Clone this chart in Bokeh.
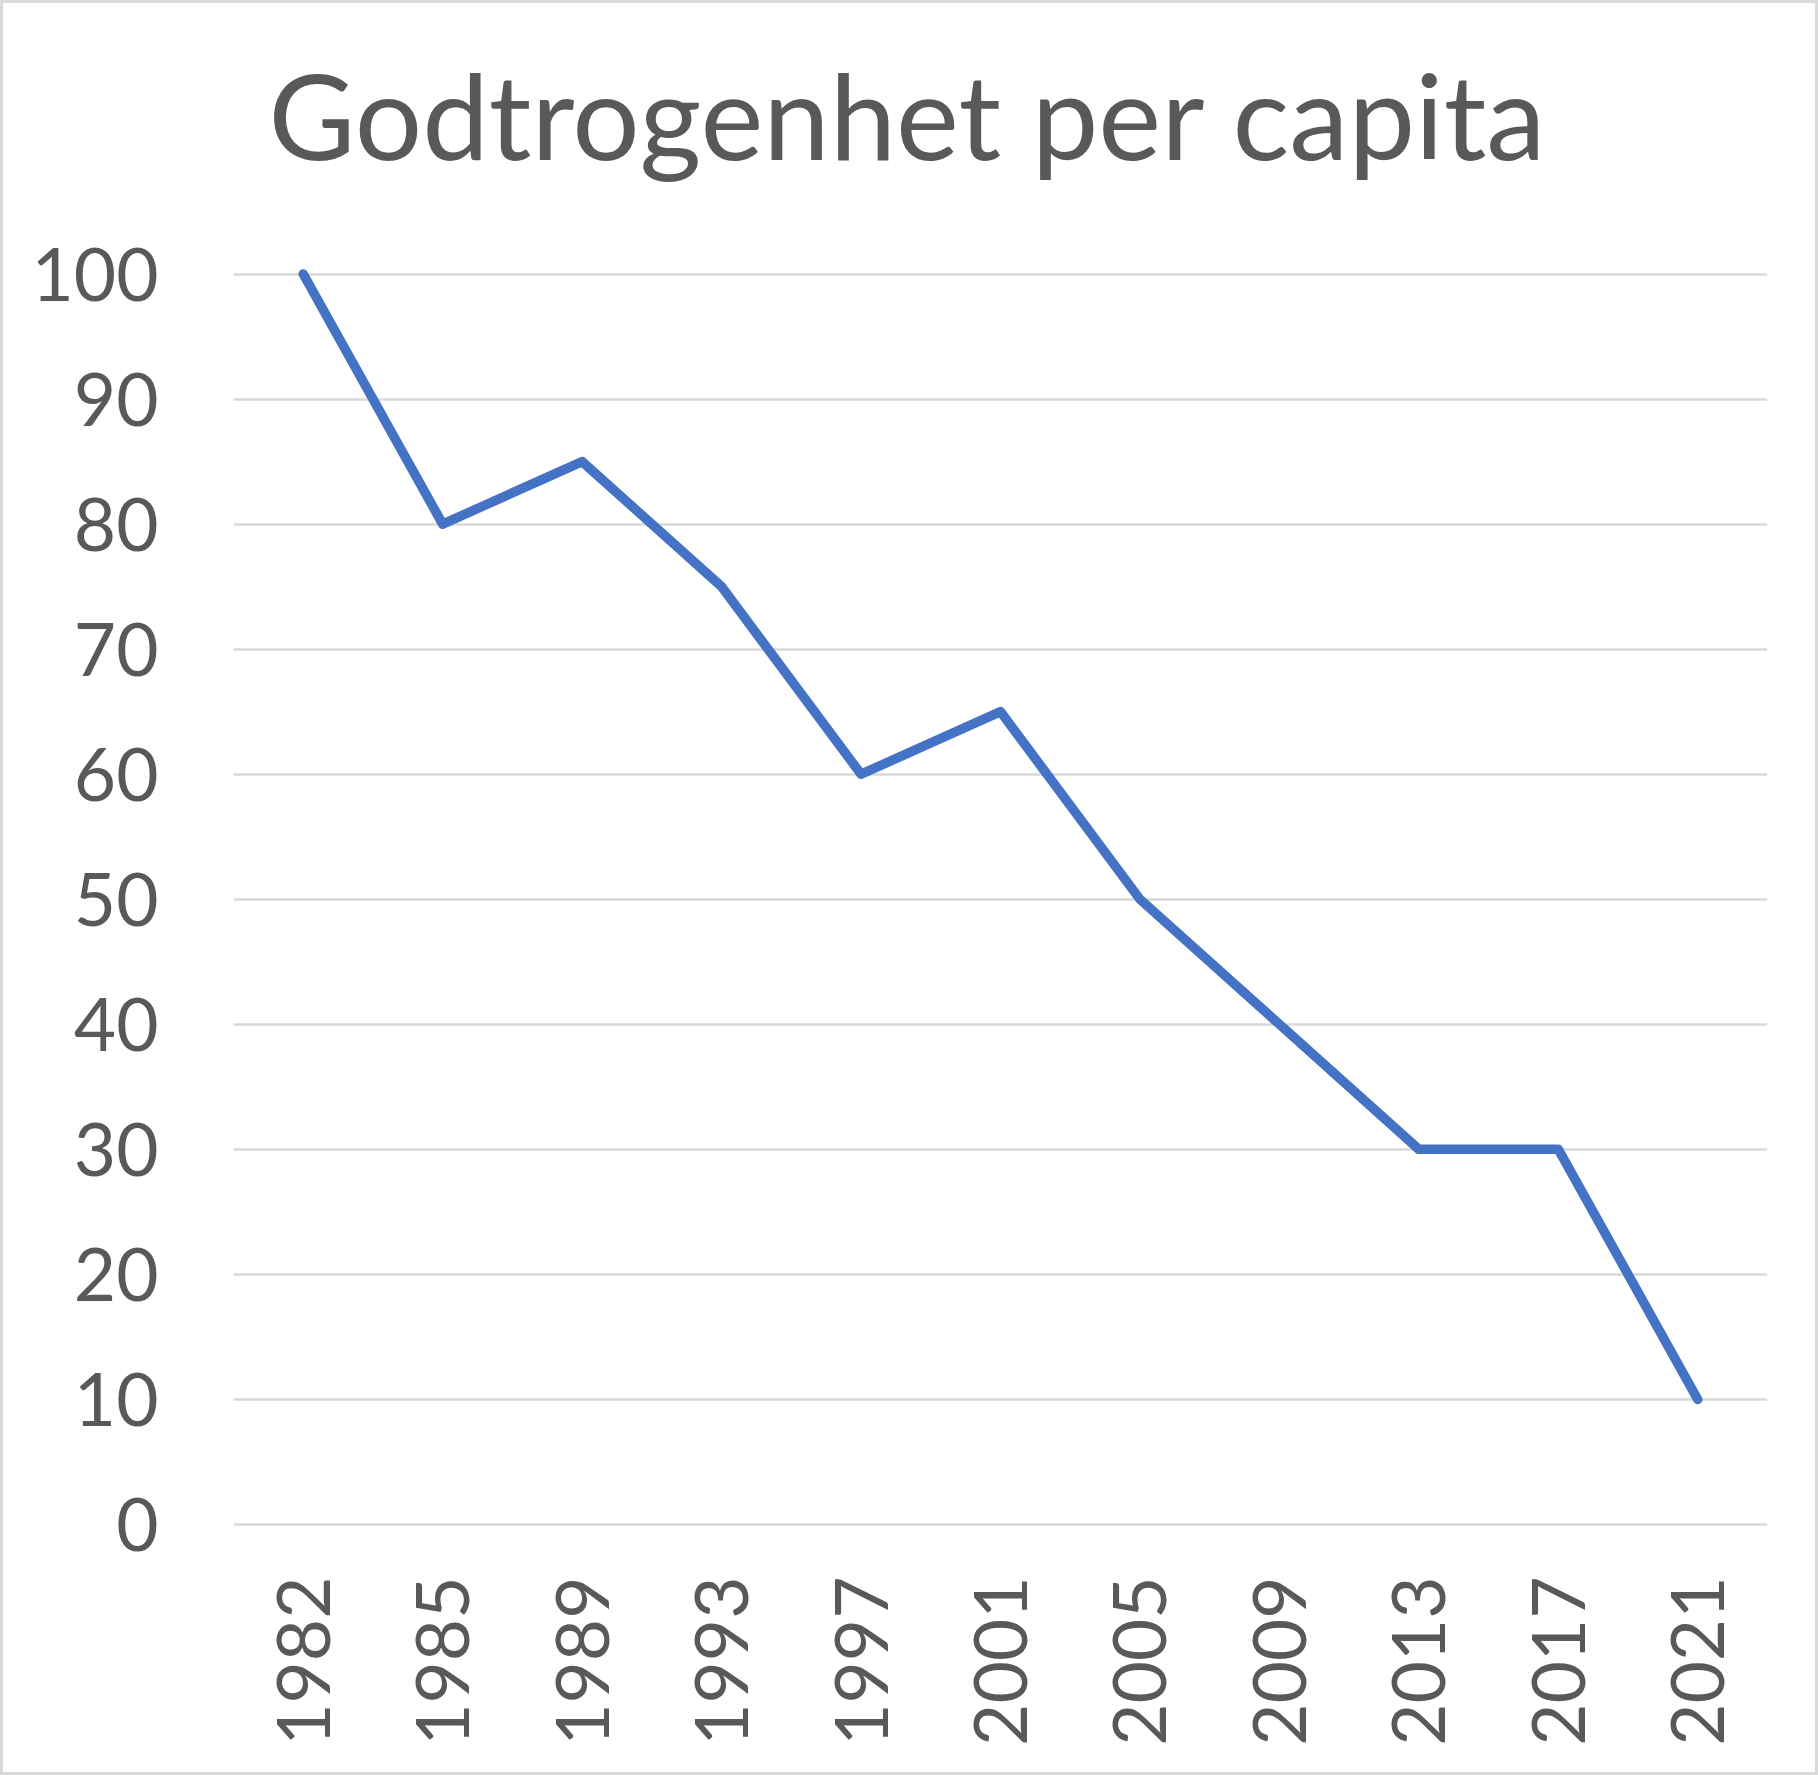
from bokeh.plotting import figure
from bokeh.models import FactorRange, Range1d, FixedTicker
from bokeh.embed import file_html
from bokeh.resources import INLINE

years = ["1982", "1985", "1989", "1993", "1997", "2001", "2005", "2009", "2013", "2017", "2021"]
values = [100, 80, 85, 75, 60, 65, 50, 40, 30, 30, 10]
y_ticks = list(range(0, 101, 10))
title_text = "Godtrogenhet per capita"

TXT = "#595959"
FONT = "Lato"

p = figure(
    width=1818, height=1775,
    x_range=FactorRange(*years, range_padding=0),
    y_range=Range1d(-2, 104.2),
    output_backend="svg", toolbar_location=None,
    min_border_left=230, min_border_right=54,
    min_border_top=217, min_border_bottom=229,
    title=title_text,
)
p.styles = {"border": "3px solid #d9d9d9", "box-sizing": "border-box"}
p.outline_line_color = None
p.background_fill_color = "white"
p.border_fill_color = "white"

p.title.text_font = FONT
p.title.text_font_size = "119px"
p.title.text_font_style = "normal"
p.title.text_color = TXT
p.title.align = "left"
p.title.vertical_align = "bottom"
p.title.offset = 35
p.title.standoff = 74

p.line(x=years, y=values, line_color="#4472C4", line_width=9.5,
       line_cap="round", line_join="round")

p.xgrid.grid_line_color = None
p.ygrid.grid_line_color = "#d9d9d9"
p.ygrid.grid_line_width = 2.5
p.yaxis.ticker = FixedTicker(ticks=y_ticks)

for ax in (p.xaxis[0], p.yaxis[0]):
    ax.axis_line_color = None
    ax.major_tick_line_color = None
    ax.minor_tick_line_color = None
    ax.major_label_text_font = FONT
    ax.major_label_text_font_size = "73px"
    ax.major_label_text_color = TXT

p.yaxis.major_label_standoff = 69
p.xaxis.major_label_standoff = 21
p.xaxis.major_label_orientation = 3.14159265 / 2

open("out.html", "w").write(file_html(p, INLINE))
